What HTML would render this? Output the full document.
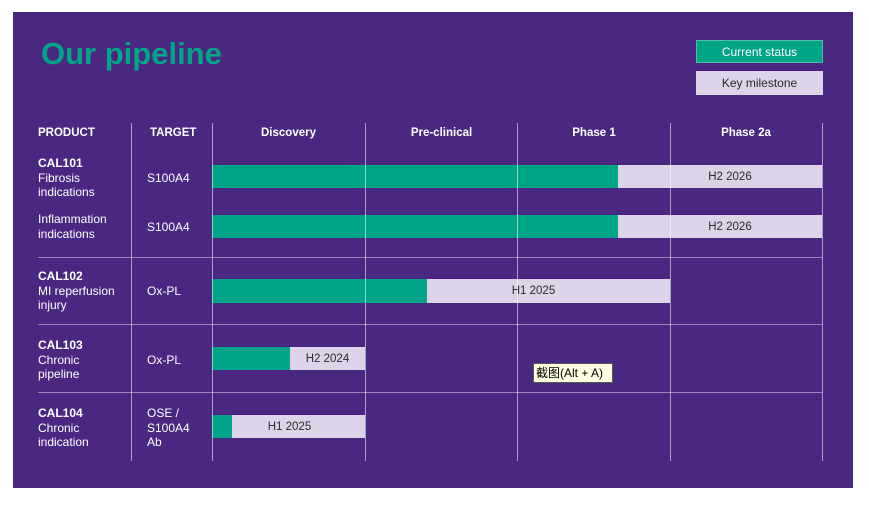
<!DOCTYPE html>
<html><head><meta charset="utf-8"><style>
body{margin:0;width:869px;height:505px;background:#fff;position:relative;overflow:hidden;font-family:"Liberation Sans",sans-serif}
.a{position:absolute}
#p{left:13px;top:12px;width:840px;height:476px;background:#4a2882}
.g{background:#00a587}.l{background:#dcd3e8}
.t{color:#fff;font-size:12px;line-height:14.5px}
.h{color:#fff;font-size:11.5px;font-weight:bold;top:127px}
.vl{width:1px;top:123px;height:338px;background:rgba(255,255,255,0.55)}
.hl{height:1px;left:38px;width:784px;background:rgba(255,255,255,0.45)}
.bt{font-size:11.5px;color:#2a2a2a;text-align:center;line-height:25px}
</style></head><body>
<div class="a" id="p"></div>
<div class="a" style="left:41px;top:36px;font-size:31px;font-weight:bold;color:#00a587">Our pipeline</div>
<div class="a g" style="left:696px;top:40px;width:127px;height:23px;color:#fff;font-size:12px;text-align:center;line-height:24px;box-shadow:inset 0 0 0 1px rgba(255,255,255,0.3)">Current status</div>
<div class="a l" style="left:696px;top:71px;width:127px;height:24px;color:#2a2a2a;font-size:12px;text-align:center;line-height:25px">Key milestone</div>

<div class="a h" style="left:38px">PRODUCT</div>
<div class="a h" style="left:150px">TARGET</div>
<div class="a h" style="left:212px;width:153px;text-align:center">Discovery</div>
<div class="a h" style="left:365px;width:153px;text-align:center">Pre-clinical</div>
<div class="a h" style="left:518px;width:152px;text-align:center">Phase 1</div>
<div class="a h" style="left:670px;width:152px;text-align:center">Phase 2a</div>

<div class="a t" style="left:38px;top:156px"><b>CAL101</b><br>Fibrosis<br>indications</div>
<div class="a t" style="left:38px;top:212px">Inflammation<br>indications</div>
<div class="a t" style="left:38px;top:269px"><b>CAL102</b><br>MI reperfusion<br>injury</div>
<div class="a t" style="left:38px;top:338px"><b>CAL103</b><br>Chronic<br>pipeline</div>
<div class="a t" style="left:38px;top:406px"><b>CAL104</b><br>Chronic<br>indication</div>

<div class="a t" style="left:147px;top:171px">S100A4</div>
<div class="a t" style="left:147px;top:220px">S100A4</div>
<div class="a t" style="left:147px;top:284px">Ox-PL</div>
<div class="a t" style="left:147px;top:353px">Ox-PL</div>
<div class="a t" style="left:147px;top:406px">OSE /<br>S100A4<br>Ab</div>

<div class="a g" style="left:212px;top:165px;width:406px;height:23px"></div>
<div class="a l bt" style="left:618px;top:165px;width:204px;height:23px;text-indent:20px">H2 2026</div>
<div class="a g" style="left:212px;top:215px;width:406px;height:23px"></div>
<div class="a l bt" style="left:618px;top:215px;width:204px;height:23px;text-indent:20px">H2 2026</div>
<div class="a g" style="left:212px;top:279px;width:215px;height:24px"></div>
<div class="a l bt" style="left:427px;top:279px;width:243px;height:24px;line-height:25px;text-indent:-30px">H1 2025</div>
<div class="a g" style="left:212px;top:347px;width:78px;height:23px"></div>
<div class="a l bt" style="left:290px;top:347px;width:75px;height:23px">H2 2024</div>
<div class="a g" style="left:212px;top:415px;width:20px;height:23px"></div>
<div class="a l bt" style="left:232px;top:415px;width:133px;height:23px;text-indent:-18px">H1 2025</div>

<div class="a vl" style="left:131px"></div>
<div class="a vl" style="left:212px"></div>
<div class="a vl" style="left:365px"></div>
<div class="a vl" style="left:517px"></div>
<div class="a vl" style="left:670px"></div>
<div class="a vl" style="left:822px"></div>
<div class="a hl" style="top:257px"></div>
<div class="a hl" style="top:324px"></div>
<div class="a hl" style="top:392px"></div>

<div class="a" style="left:533px;top:363px;width:76px;height:18px;background:#ffffe1;border:1px solid #555;font-size:12px;line-height:18px;color:#000;font-family:'Liberation Sans','Noto Sans CJK SC',sans-serif;padding-left:2px;box-sizing:content-box">截图(Alt + A)</div>
</body></html>
